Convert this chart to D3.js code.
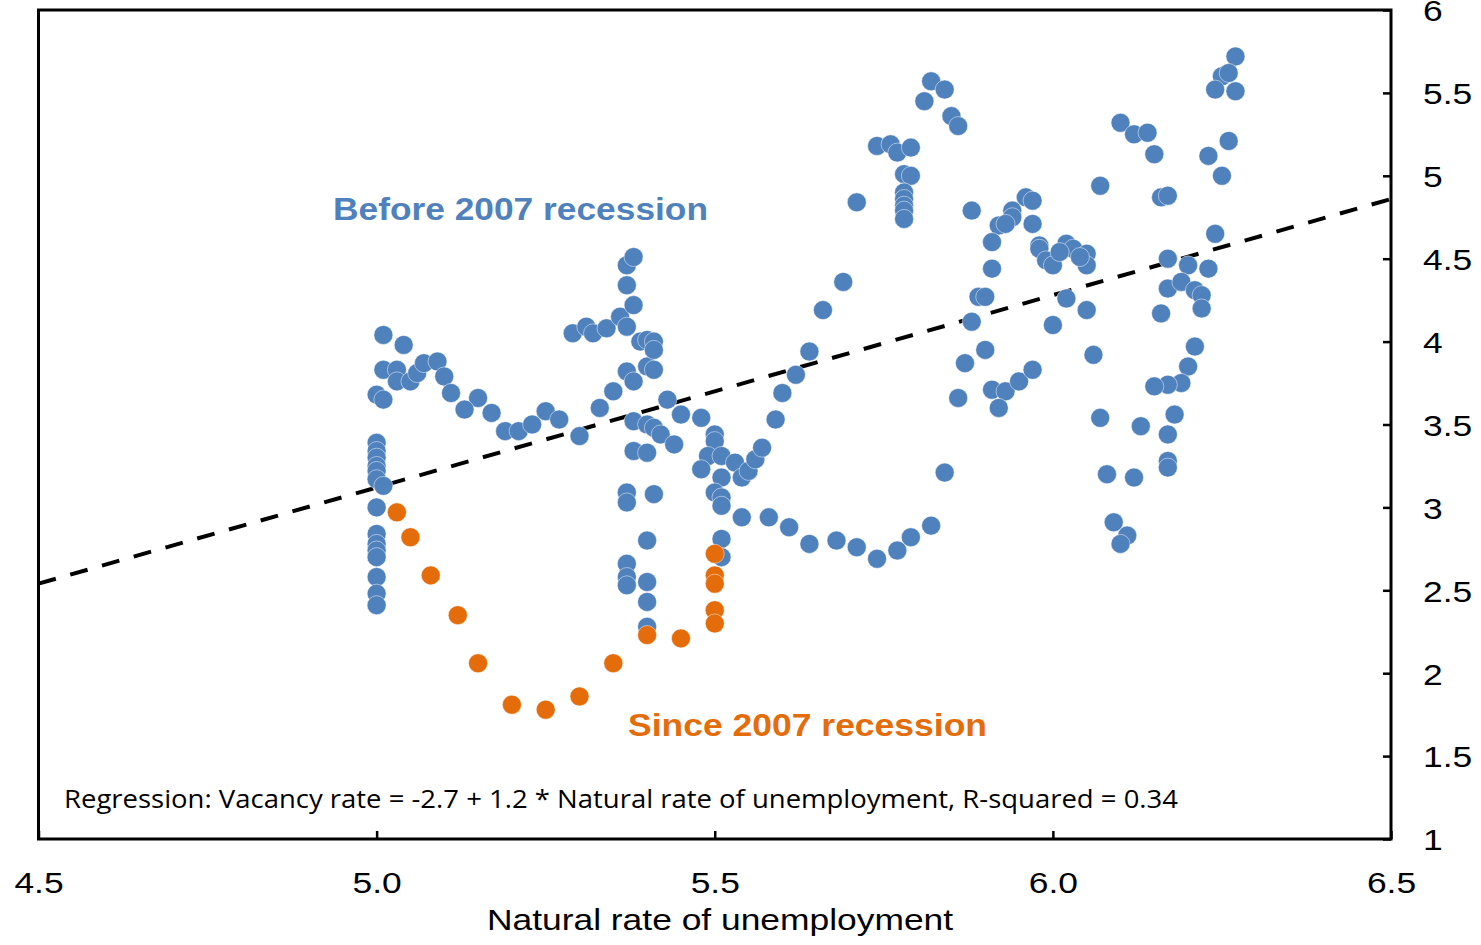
<!DOCTYPE html>
<meta charset="utf-8">
<style>
body { margin: 0; background: #fff; }
svg { display: block; font-family: "Liberation Sans", Arial, sans-serif; }
.frame { fill: none; stroke: #000; stroke-width: 3; }
.axis path { display: none; }
.axis line { stroke: #000; stroke-width: 2.5; }
.axis text { font-size: 30px; fill: #000; font-family: "Liberation Sans", Arial, sans-serif; }
.dot { stroke: #fff; stroke-width: 0.8; stroke-opacity: 0.6; }
</style>
<body>
<script src="https://cdnjs.cloudflare.com/ajax/libs/d3/7.8.5/d3.min.js"></script>
<script>

// natural rate of unemployment, vacancy rate
var beforeRecession = [
  [5.00, 3.39], [5.00, 3.34], [5.00, 3.30], [5.00, 3.25], [5.00, 3.22], [5.00, 3.17],
  [5.00, 3.00], [5.00, 2.84], [5.00, 2.78], [5.00, 2.74], [5.00, 2.70], [5.00, 2.58],
  [5.00, 2.48], [5.00, 2.41], [5.00, 3.68], [5.01, 3.13], [5.01, 3.65],
  [5.01, 4.04], [5.04, 3.98], [5.01, 3.83], [5.03, 3.83], [5.03, 3.76], [5.05, 3.76],
  [5.06, 3.81], [5.07, 3.87], [5.09, 3.88], [5.10, 3.79], [5.11, 3.69], [5.15, 3.66],
  [5.13, 3.59], [5.17, 3.57], [5.19, 3.46], [5.21, 3.46], [5.23, 3.50], [5.25, 3.58],
  [5.27, 3.53], [5.30, 3.43], [5.33, 3.60], [5.35, 3.70], [5.37, 3.82], [5.38, 3.76],
  [5.40, 3.85], [5.41, 3.83], [5.43, 3.65], [5.45, 3.56], [5.48, 3.54],
  [5.29, 4.05], [5.31, 4.09], [5.32, 4.05], [5.34, 4.08], [5.36, 4.15], [5.37, 4.09],
  [5.38, 4.22], [5.37, 4.34], [5.37, 4.46], [5.38, 4.51], [5.39, 4.00], [5.40, 4.01],
  [5.41, 4.00], [5.41, 3.95],
  [5.38, 3.52], [5.40, 3.50], [5.41, 3.48], [5.42, 3.44], [5.44, 3.38], [5.38, 3.34],
  [5.40, 3.33], [5.37, 3.09], [5.37, 3.03], [5.41, 3.08], [5.40, 2.80], [5.37, 2.66],
  [5.37, 2.58], [5.37, 2.53], [5.40, 2.55], [5.40, 2.43], [5.40, 2.28],
  [5.50, 3.44], [5.50, 3.40], [5.49, 3.31], [5.51, 3.31], [5.48, 3.23], [5.51, 3.18],
  [5.53, 3.27], [5.54, 3.18], [5.55, 3.22], [5.56, 3.29], [5.57, 3.36], [5.50, 3.09],
  [5.51, 3.06], [5.51, 3.01], [5.51, 2.81], [5.51, 2.70], [5.54, 2.94], [5.58, 2.94],
  [5.61, 2.88], [5.64, 2.78], [5.68, 2.80], [5.71, 2.76], [5.74, 2.69], [5.77, 2.74],
  [5.79, 2.82], [5.82, 2.89], [5.84, 3.21],
  [5.59, 3.53], [5.60, 3.69], [5.62, 3.80], [5.64, 3.94], [5.66, 4.19], [5.69, 4.36],
  [5.71, 4.84], [5.74, 5.18], [5.76, 5.19], [5.77, 5.14], [5.79, 5.17], [5.78, 5.01],
  [5.79, 5.00], [5.78, 4.90], [5.78, 4.86], [5.78, 4.82], [5.78, 4.79], [5.78, 4.74],
  [5.82, 5.57], [5.84, 5.52], [5.81, 5.45], [5.85, 5.36], [5.86, 5.30],
  [5.88, 4.79], [5.96, 4.87], [5.97, 4.85], [5.94, 4.79], [5.94, 4.75], [5.92, 4.70],
  [5.93, 4.71], [5.97, 4.71], [5.91, 4.60], [5.91, 4.44], [5.98, 4.58], [5.98, 4.56],
  [5.99, 4.49], [6.00, 4.46], [6.02, 4.59], [6.03, 4.56], [6.05, 4.53], [6.05, 4.46],
  [6.01, 4.54], [6.04, 4.51],
  [5.89, 4.27], [5.90, 4.27], [5.88, 4.12], [6.02, 4.26], [6.00, 4.10], [6.05, 4.19],
  [6.07, 4.94],
  [5.90, 3.95], [5.87, 3.87], [6.06, 3.92], [5.86, 3.66], [5.91, 3.71], [5.93, 3.70],
  [5.95, 3.76], [5.97, 3.83], [5.92, 3.60], [6.07, 3.54],
  [6.27, 5.72], [6.25, 5.60], [6.26, 5.62], [6.24, 5.52], [6.27, 5.51], [6.10, 5.32],
  [6.12, 5.25], [6.14, 5.26], [6.15, 5.13], [6.26, 5.21], [6.23, 5.12], [6.25, 5.00],
  [6.16, 4.87], [6.17, 4.88], [6.24, 4.65], [6.17, 4.50], [6.20, 4.46], [6.23, 4.44],
  [6.17, 4.32], [6.19, 4.36], [6.21, 4.31], [6.22, 4.28], [6.22, 4.20], [6.16, 4.17],
  [6.21, 3.97], [6.20, 3.85], [6.19, 3.75], [6.17, 3.74], [6.15, 3.73], [6.18, 3.56],
  [6.13, 3.49], [6.17, 3.44], [6.17, 3.28], [6.17, 3.24], [6.08, 3.20], [6.12, 3.18],
  [6.09, 2.91], [6.11, 2.83], [6.10, 2.78]
];

var sinceRecession = [
  [5.03, 2.97], [5.05, 2.82], [5.08, 2.59], [5.12, 2.35], [5.15, 2.06], [5.20, 1.81],
  [5.25, 1.78], [5.30, 1.86], [5.35, 2.06], [5.40, 2.23], [5.45, 2.21], [5.50, 2.72],
  [5.50, 2.59], [5.50, 2.54], [5.50, 2.38], [5.50, 2.30]
];

var xTicks = [4.5, 5.0, 5.5, 6.0, 6.5],
    yTicks = [1, 1.5, 2, 2.5, 3, 3.5, 4, 4.5, 5, 5.5, 6];

// fitted line as drawn
var fitIntercept = -2.68,
    fitSlope = 1.16;

var width = 1481,
    height = 945,
    plotLeft = 38.5,
    plotRight = 1391,
    plotTop = 10,
    plotBottom = 839,
    stretch = 1.18;

var x = d3.scaleLinear().domain([4.5, 6.5]).range([plotLeft, plotRight]);
var y = d3.scaleLinear().domain([1, 6]).range([plotBottom, plotTop]);

var svg = d3.select("body").append("svg")
    .attr("width", width)
    .attr("height", height);

// dashed regression line
svg.append("line")
    .attr("x1", x(4.5))
    .attr("y1", y(fitIntercept + fitSlope * 4.5))
    .attr("x2", x(6.5))
    .attr("y2", y(fitIntercept + fitSlope * 6.5))
    .style("stroke", "#000")
    .style("stroke-width", 4)
    .style("stroke-dasharray", "18,15");

svg.append("g").selectAll("circle")
    .data(beforeRecession)
  .enter().append("circle")
    .attr("class", "dot")
    .attr("cx", function(d) { return x(d[0]); })
    .attr("cy", function(d) { return y(d[1]); })
    .attr("r", 9.5)
    .style("fill", "#4F81BD");

svg.append("g").selectAll("circle")
    .data(sinceRecession)
  .enter().append("circle")
    .attr("class", "dot")
    .attr("cx", function(d) { return x(d[0]); })
    .attr("cy", function(d) { return y(d[1]); })
    .attr("r", 9.5)
    .style("fill", "#E46C0A");

svg.append("rect")
    .attr("class", "frame")
    .attr("x", plotLeft)
    .attr("y", plotTop)
    .attr("width", plotRight - plotLeft)
    .attr("height", plotBottom - plotTop);

var xAxis = svg.append("g")
    .attr("class", "axis")
    .attr("transform", "translate(0," + plotBottom + ")")
    .call(d3.axisBottom(x).tickValues(xTicks).tickFormat(d3.format(".1f"))
      .tickSizeInner(-8).tickSizeOuter(0));
xAxis.selectAll("text")
    .attr("y", 0)
    .attr("dy", null)
    .attr("transform", "translate(0,54) scale(" + stretch + ",1)");

var yAxis = svg.append("g")
    .attr("class", "axis")
    .attr("transform", "translate(" + plotRight + ",0)")
    .call(d3.axisRight(y).tickValues(yTicks).tickFormat(function(d) { return String(d); })
      .tickSizeInner(-8).tickSizeOuter(0));
yAxis.selectAll("text")
    .attr("x", 0)
    .attr("dy", "0.36em")
    .attr("text-anchor", "start")
    .attr("transform", "translate(32,0) scale(" + stretch + ",1)");

svg.append("text")
    .attr("transform", "translate(720,930) scale(" + stretch + ",1)")
    .attr("text-anchor", "middle")
    .style("font-size", "30px")
    .text("Natural rate of unemployment");

svg.append("text")
    .attr("x", 333)
    .attr("y", 220)
    .attr("textLength", 375)
    .attr("lengthAdjust", "spacingAndGlyphs")
    .style("font-size", "32px")
    .style("font-weight", "bold")
    .style("fill", "#4F81BD")
    .text("Before 2007 recession");

svg.append("text")
    .attr("x", 628)
    .attr("y", 736)
    .attr("textLength", 359)
    .attr("lengthAdjust", "spacingAndGlyphs")
    .style("font-size", "32px")
    .style("font-weight", "bold")
    .style("fill", "#E46C0A")
    .text("Since 2007 recession");

svg.append("text")
    .attr("x", 64)
    .attr("y", 808)
    .attr("textLength", 1114)
    .attr("lengthAdjust", "spacingAndGlyphs")
    .style("font-family", "'Open Sans', 'Noto Sans', sans-serif")
    .style("font-size", "26px")
    .text("Regression: Vacancy rate = -2.7 + 1.2 * Natural rate of unemployment, R-squared = 0.34");

</script>
